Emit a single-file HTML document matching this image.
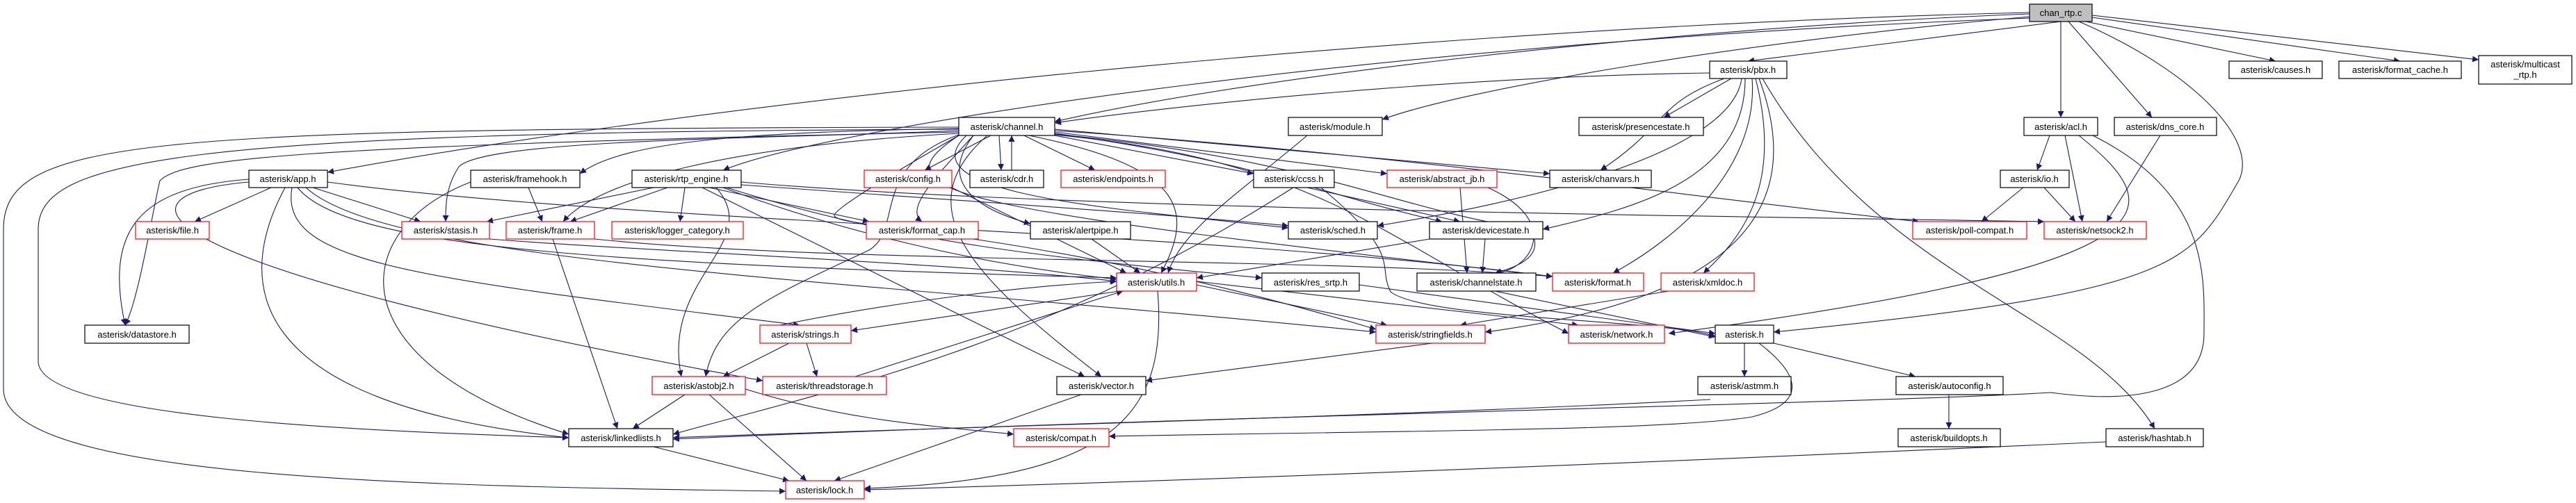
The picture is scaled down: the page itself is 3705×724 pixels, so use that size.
<!DOCTYPE html>
<html><head><meta charset="utf-8"><style>
html,body{margin:0;padding:0;background:#fff;}
svg{display:block;}
text{font-family:"Liberation Sans",sans-serif;font-size:13px;fill:#000;}
.n{fill:#fff;stroke:#000;stroke-width:1.2;}
.r{fill:#fff;stroke:#f00;stroke-width:1.2;}
.e{fill:none;stroke:#191970;stroke-width:1.1;}
</style></head><body>
<svg width="3705" height="724" viewBox="0 0 3705 724" xmlns="http://www.w3.org/2000/svg">
<defs><marker id="a" viewBox="0 0 10 10" refX="10" refY="5" markerWidth="9" markerHeight="9" orient="auto" markerUnits="userSpaceOnUse"><path d="M0,0L10,5L0,10z" fill="#191970"/></marker></defs>
<g marker-end="url(#a)">
<!-- chan_rtp.c -->
<path class="e" d="M2964,31L2514,88"/>
<path class="e" d="M3000,31L3273,88"/>
<path class="e" d="M3009,25L3452,88"/>
<path class="e" d="M3009,22L3565,86"/>
<path class="e" d="M2964,31L2964,169"/>
<path class="e" d="M2975,31L3095,169"/>
<path class="e" d="M2919,20C2400,40 1800,110 1517,175"/>
<path class="e" d="M2919,24C2500,60 2100,130 1988,172"/>
<path class="e" d="M2919,18C2000,40 1000,150 471,248"/>
<path class="e" d="M2919,26C2000,60 1200,180 1040,245"/>
<path class="e" d="M2990,31C3150,100 3250,200 3220,260C3150,380 3140,420 2551,478"/>
<!-- pbx.h -->
<path class="e" d="M2459,105C2100,110 1700,150 1517,177"/>
<path class="e" d="M2490,113L2393,169"/>
<path class="e" d="M2480,113C2380,150 2400,180 2302,245"/>
<path class="e" d="M2505,113C2490,220 2200,290 1981,325"/>
<path class="e" d="M2510,113C2510,260 2350,300 2219,330"/>
<path class="e" d="M2520,113C2530,250 2400,350 2320,393"/>
<path class="e" d="M2525,113C2560,250 2520,330 2450,393"/>
<path class="e" d="M2530,113C2600,300 2500,430 2136,478"/>
<path class="e" d="M2535,113C2700,400 3000,450 3099,617"/>
<!-- module.h -->
<path class="e" d="M1880,195C1780,280 1700,330 1680,393"/>
<!-- channel.h -->
<path class="e" d="M1379,185C1100,190 900,200 834,250"/>
<path class="e" d="M1379,188C1100,200 700,200 660,240C640,270 641,300 641,319"/>
<path class="e" d="M1379,192C1050,210 860,260 810,319"/>
<path class="e" d="M1400,195C1350,250 1300,300 1326,319"/>
<path class="e" d="M1425,195L1330,245"/>
<path class="e" d="M1437,195L1440,245"/>
<path class="e" d="M1473,195L1575,245"/>
<path class="e" d="M1517,195L1803,250"/>
<path class="e" d="M1517,190L1995,250"/>
<path class="e" d="M1517,186L2229,250"/>
<path class="e" d="M1400,195C1350,260 1400,300 1482,322"/>
<path class="e" d="M1390,195C1300,280 1600,300 1853,328"/>
<path class="e" d="M1517,192C1800,230 1900,280 2074,319"/>
<path class="e" d="M1480,195C1700,240 1720,300 1670,393"/>
<path class="e" d="M1517,188C2000,220 2400,280 2760,319"/>
<path class="e" d="M1379,183C200,185 5,200 5,330L5,560C5,690 600,700 1130,707"/>
<path class="e" d="M1379,186C250,190 55,230 55,330L55,520C55,600 500,620 818,630"/>
<path class="e" d="M1379,190C400,210 260,230 230,260C220,300 200,430 180,468"/>
<path class="e" d="M1379,194C1250,240 1300,330 1250,360C1100,430 1030,460 1015,542"/>
<path class="e" d="M1379,195C1300,240 1200,300 1200,310C1200,330 1500,330 1979,474"/>
<path class="e" d="M1517,193C1900,230 2000,300 2200,330C2220,360 2200,380 2150,393"/>
<path class="e" d="M1517,194C1900,230 2000,350 2256,480"/>
<path class="e" d="M1420,195C1300,300 1400,400 1584,542"/>
<path class="e" d="M1379,195C1250,280 1380,300 2233,398"/>
<!-- cdr upward -->
<path class="e" d="M1455,245L1455,195"/>
<!-- app.h -->
<path class="e" d="M390,270L280,319"/>
<path class="e" d="M450,270L605,319"/>
<path class="e" d="M410,270C340,400 340,580 818,630"/>
<path class="e" d="M420,270C400,380 600,400 1150,468"/>
<path class="e" d="M428,270C500,360 900,380 1606,400"/>
<path class="e" d="M358,262C150,280 180,380 1097,548"/>
<path class="e" d="M358,258C200,270 150,330 180,468"/>
<path class="e" d="M440,270C560,380 1200,400 1979,478"/>
<path class="e" d="M471,262C900,320 1700,330 2233,398"/>
<!-- framehook -->
<path class="e" d="M760,270L780,319"/>
<path class="e" d="M677,262C500,330 480,520 818,625"/>
<!-- rtp_engine -->
<path class="e" d="M940,270L700,319"/>
<path class="e" d="M960,270L820,319"/>
<path class="e" d="M985,270L978,319"/>
<path class="e" d="M1020,270L1250,319"/>
<path class="e" d="M1030,270C1100,350 950,400 980,542"/>
<path class="e" d="M1040,270C1200,330 1400,380 1606,402"/>
<path class="e" d="M1045,270C1300,350 1500,370 1815,400"/>
<path class="e" d="M1066,262C1500,300 2400,310 2940,319"/>
<path class="e" d="M1010,270L1560,542"/>
<path class="e" d="M1066,266C1400,290 1700,310 1853,325"/>
<!-- row4 -->
<path class="e" d="M704,344C900,360 1400,380 1606,405"/>
<path class="e" d="M795,344L888,617"/>
<path class="e" d="M855,344C1200,380 1900,370 2233,398"/>
<path class="e" d="M1369,270L1620,393"/>
<path class="e" d="M1570,344L1640,393"/>
<path class="e" d="M1880,270L2100,319"/>
<path class="e" d="M1860,270C1500,500 1200,560 968,625"/>
<path class="e" d="M1900,270C2020,370 1980,380 2000,420C2050,460 2400,460 2467,484"/>
<path class="e" d="M2100,270L2110,393"/>
<path class="e" d="M2140,270C2250,320 2200,390 2150,393"/>
<path class="e" d="M2136,344L2132,393"/>
<path class="e" d="M2056,344L1721,400"/>
<!-- acl etc -->
<path class="e" d="M2948,195L2930,245"/>
<path class="e" d="M2970,195L2995,319"/>
<path class="e" d="M2990,195C3120,300 3150,380 2400,480"/>
<path class="e" d="M3010,195C3180,280 3170,400 3170,480C3170,570 3060,580 2950,565C2700,580 1700,600 968,632"/>
<path class="e" d="M2910,270L2850,319"/>
<path class="e" d="M2940,270L2985,319"/>
<path class="e" d="M3107,195L3030,319"/>
<!-- utils -->
<path class="e" d="M1610,419L1224,476"/>
<path class="e" d="M1721,410L1995,468"/>
<path class="e" d="M1721,405L2270,468"/>
<path class="e" d="M1665,419C1680,600 1600,690 1243,703"/>
<path class="e" d="M1093,474C1300,430 1500,410 1606,405"/>
<path class="e" d="M1135,494L1040,542"/>
<path class="e" d="M1160,494L1175,542"/>
<path class="e" d="M1230,542L1615,419"/>
<path class="e" d="M1955,410L2467,480"/>
<path class="e" d="M2150,419L2467,485"/>
<path class="e" d="M2400,419L2100,468"/>
<path class="e" d="M2060,494L1648,548"/>
<path class="e" d="M985,568L910,617"/>
<path class="e" d="M1020,568L1160,692"/>
<path class="e" d="M1072,560C1200,600 1300,610 1458,625"/>
<path class="e" d="M940,643L1135,692"/>
<path class="e" d="M1555,568L1200,692"/>
<path class="e" d="M2509,494L2509,542"/>
<path class="e" d="M2551,494L2755,542"/>
<path class="e" d="M2530,494C2590,540 2600,580 2520,600C2400,620 2000,620 1595,628"/>
<path class="e" d="M2803,568L2803,617"/>
<path class="e" d="M3029,636C2500,660 1800,690 1243,705"/>
<path class="e" d="M2460,575C2000,600 1200,620 968,630"/>
</g>
<!-- nodes -->
<g>
<rect x="2919" y="6" width="90" height="25" fill="#bfbfbf" stroke="#000" stroke-width="1.2"/><text x="2964" y="23" text-anchor="middle">chan_rtp.c</text>
<rect class="n" x="2459" y="88" width="111" height="25"/><text x="2514" y="105" text-anchor="middle">asterisk/pbx.h</text>
<rect class="n" x="3206" y="88" width="134" height="25"/><text x="3273" y="105" text-anchor="middle">asterisk/causes.h</text>
<rect class="n" x="3364" y="88" width="176" height="25"/><text x="3452" y="105" text-anchor="middle">asterisk/format_cache.h</text>
<rect class="n" x="3565" y="80" width="134" height="41"/><text x="3632" y="97" text-anchor="middle">asterisk/multicast</text><text x="3632" y="112" text-anchor="middle">_rtp.h</text>
<rect class="n" x="1379" y="169" width="138" height="26"/><text x="1448" y="187" text-anchor="middle">asterisk/channel.h</text>
<rect class="n" x="1853" y="169" width="135" height="26"/><text x="1920" y="187" text-anchor="middle">asterisk/module.h</text>
<rect class="n" x="2271" y="169" width="179" height="26"/><text x="2360" y="187" text-anchor="middle">asterisk/presencestate.h</text>
<rect class="n" x="2911" y="169" width="106" height="26"/><text x="2964" y="187" text-anchor="middle">asterisk/acl.h</text>
<rect class="n" x="3041" y="169" width="147" height="26"/><text x="3114" y="187" text-anchor="middle">asterisk/dns_core.h</text>
<rect class="n" x="358" y="245" width="113" height="25"/><text x="414" y="262" text-anchor="middle">asterisk/app.h</text>
<rect class="n" x="677" y="245" width="157" height="25"/><text x="755" y="262" text-anchor="middle">asterisk/framehook.h</text>
<rect class="n" x="909" y="245" width="157" height="25"/><text x="987" y="262" text-anchor="middle">asterisk/rtp_engine.h</text>
<rect class="r" x="1243" y="245" width="126" height="25"/><text x="1306" y="262" text-anchor="middle">asterisk/config.h</text>
<rect class="n" x="1395" y="245" width="106" height="25"/><text x="1448" y="262" text-anchor="middle">asterisk/cdr.h</text>
<rect class="r" x="1526" y="245" width="150" height="25"/><text x="1601" y="262" text-anchor="middle">asterisk/endpoints.h</text>
<rect class="n" x="1803" y="245" width="116" height="25"/><text x="1861" y="262" text-anchor="middle">asterisk/ccss.h</text>
<rect class="r" x="1995" y="245" width="158" height="25"/><text x="2074" y="262" text-anchor="middle">asterisk/abstract_jb.h</text>
<rect class="n" x="2229" y="245" width="146" height="25"/><text x="2302" y="262" text-anchor="middle">asterisk/chanvars.h</text>
<rect class="n" x="2877" y="245" width="99" height="25"/><text x="2926" y="262" text-anchor="middle">asterisk/io.h</text>
<rect class="r" x="195" y="319" width="106" height="25"/><text x="248" y="336" text-anchor="middle">asterisk/file.h</text>
<rect class="r" x="578" y="319" width="126" height="25"/><text x="641" y="336" text-anchor="middle">asterisk/stasis.h</text>
<rect class="r" x="728" y="319" width="127" height="25"/><text x="791" y="336" text-anchor="middle">asterisk/frame.h</text>
<rect class="r" x="880" y="319" width="189" height="25"/><text x="974" y="336" text-anchor="middle">asterisk/logger_category.h</text>
<rect class="r" x="1246" y="319" width="161" height="25"/><text x="1326" y="336" text-anchor="middle">asterisk/format_cap.h</text>
<rect class="n" x="1482" y="319" width="144" height="25"/><text x="1554" y="336" text-anchor="middle">asterisk/alertpipe.h</text>
<rect class="n" x="1853" y="319" width="128" height="25"/><text x="1917" y="336" text-anchor="middle">asterisk/sched.h</text>
<rect class="n" x="2056" y="319" width="163" height="25"/><text x="2137" y="336" text-anchor="middle">asterisk/devicestate.h</text>
<rect class="r" x="2751" y="319" width="164" height="25"/><text x="2833" y="336" text-anchor="middle">asterisk/poll-compat.h</text>
<rect class="r" x="2940" y="319" width="147" height="25"/><text x="3013" y="336" text-anchor="middle">asterisk/netsock2.h</text>
<rect class="r" x="1606" y="393" width="115" height="26"/><text x="1663" y="411" text-anchor="middle">asterisk/utils.h</text>
<rect class="n" x="1815" y="393" width="140" height="26"/><text x="1885" y="411" text-anchor="middle">asterisk/res_srtp.h</text>
<rect class="n" x="2038" y="393" width="171" height="26"/><text x="2123" y="411" text-anchor="middle">asterisk/channelstate.h</text>
<rect class="r" x="2233" y="393" width="131" height="26"/><text x="2298" y="411" text-anchor="middle">asterisk/format.h</text>
<rect class="r" x="2389" y="393" width="134" height="26"/><text x="2456" y="411" text-anchor="middle">asterisk/xmldoc.h</text>
<rect class="n" x="122" y="468" width="150" height="26"/><text x="197" y="486" text-anchor="middle">asterisk/datastore.h</text>
<rect class="r" x="1093" y="468" width="131" height="26"/><text x="1158" y="486" text-anchor="middle">asterisk/strings.h</text>
<rect class="r" x="1979" y="468" width="157" height="26"/><text x="2057" y="486" text-anchor="middle">asterisk/stringfields.h</text>
<rect class="r" x="2256" y="468" width="138" height="26"/><text x="2325" y="486" text-anchor="middle">asterisk/network.h</text>
<rect class="n" x="2467" y="468" width="84" height="26"/><text x="2509" y="486" text-anchor="middle">asterisk.h</text>
<rect class="r" x="938" y="542" width="134" height="26"/><text x="1005" y="560" text-anchor="middle">asterisk/astobj2.h</text>
<rect class="r" x="1097" y="542" width="178" height="26"/><text x="1186" y="560" text-anchor="middle">asterisk/threadstorage.h</text>
<rect class="n" x="1520" y="542" width="128" height="26"/><text x="1584" y="560" text-anchor="middle">asterisk/vector.h</text>
<rect class="n" x="2442" y="542" width="134" height="26"/><text x="2509" y="560" text-anchor="middle">asterisk/astmm.h</text>
<rect class="n" x="2727" y="542" width="154" height="26"/><text x="2804" y="560" text-anchor="middle">asterisk/autoconfig.h</text>
<rect class="n" x="818" y="617" width="150" height="26"/><text x="893" y="635" text-anchor="middle">asterisk/linkedlists.h</text>
<rect class="r" x="1458" y="617" width="137" height="26"/><text x="1526" y="635" text-anchor="middle">asterisk/compat.h</text>
<rect class="n" x="2730" y="617" width="147" height="26"/><text x="2803" y="635" text-anchor="middle">asterisk/buildopts.h</text>
<rect class="n" x="3029" y="617" width="140" height="26"/><text x="3099" y="635" text-anchor="middle">asterisk/hashtab.h</text>
<rect class="r" x="1130" y="692" width="113" height="26"/><text x="1186" y="710" text-anchor="middle">asterisk/lock.h</text>
</g>
</svg>
</body></html>
